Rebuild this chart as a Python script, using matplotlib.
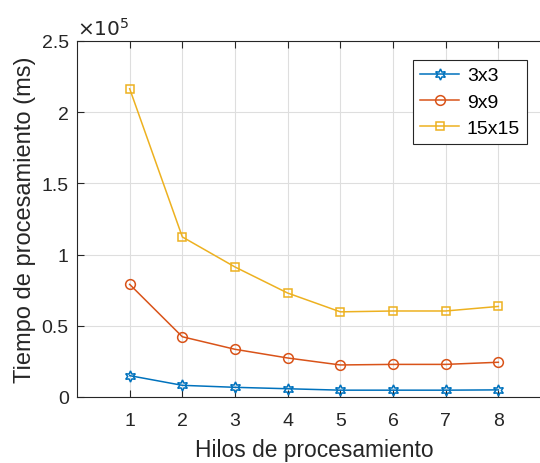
import matplotlib
matplotlib.use("Agg")
import matplotlib.pyplot as plt
from matplotlib.ticker import FuncFormatter

plt.rcParams['font.family'] = ['Liberation Sans', 'DejaVu Sans']

# datos (ms)
hilos = [1, 2, 3, 4, 5, 6, 7, 8]
t_3x3 = [15000, 8200, 6800, 5800, 4800, 4800, 4800, 5000]
t_9x9 = [79100, 42300, 33500, 27400, 22500, 22900, 22900, 24400]
t_15x15 = [216500, 112400, 91300, 73000, 59800, 60400, 60400, 63600]

azul = "#0072BD"
naranja = "#D95319"
amarillo = "#EDB120"
gris = "#262626"

fig = plt.figure(figsize=(5.4, 4.64), dpi=100)
ax = fig.add_axes([77/540, 66/464, 474/540, 356/464])

ax.plot(hilos, t_3x3, color=azul, lw=1.1, marker=(6, 1, 0), ms=8,
        mfc='none', mew=1.1, label="3x3")
ax.plot(hilos, t_9x9, color=naranja, lw=1.1, marker='o', ms=7,
        mfc='none', mew=1.1, label="9x9")
ax.plot(hilos, t_15x15, color=amarillo, lw=1.1, marker='s', ms=6,
        mfc='none', mew=1.1, label="15x15")

ax.set_xlim(0, 9)
ax.set_ylim(0, 250000)
ax.set_xticks(hilos)
ax.set_yticks([0, 50000, 100000, 150000, 200000, 250000])
ax.yaxis.set_major_formatter(FuncFormatter(lambda v, p: "%g" % (v / 1e5)))

ax.grid(True, color="#dedede", lw=0.8)
ax.set_axisbelow(True)
ax.tick_params(direction='in', top=True, right=False, length=5, width=0.8,
               labelsize=14, colors=gris, labelcolor=gris)
ax.tick_params(axis='x', pad=11)
ax.tick_params(axis='y', pad=6)
for s in ['left', 'bottom', 'top']:
    ax.spines[s].set_color(gris)
    ax.spines[s].set_linewidth(0.8)
ax.spines['right'].set_visible(False)

ax.set_xlabel("Hilos de procesamiento", fontsize=16.4, color=gris, labelpad=6)
ax.set_ylabel("Tiempo de procesamiento (ms)", fontsize=17, color=gris, labelpad=4)
ax.text(0.0, 1.005, r"$\times10^5$", transform=ax.transAxes, fontsize=14.5,
        color=gris, ha='left', va='bottom')

leg = ax.legend(loc='upper right', bbox_to_anchor=(527/540, 1 - 61/464),
                bbox_transform=fig.transFigure, fontsize=14, fancybox=False,
                framealpha=1, edgecolor=gris, handlelength=2.0,
                handletextpad=0.4, borderpad=0.35, labelspacing=0.45,
                borderaxespad=0)
leg.get_frame().set_linewidth(0.8)

fig.savefig("out.png", dpi=100)
